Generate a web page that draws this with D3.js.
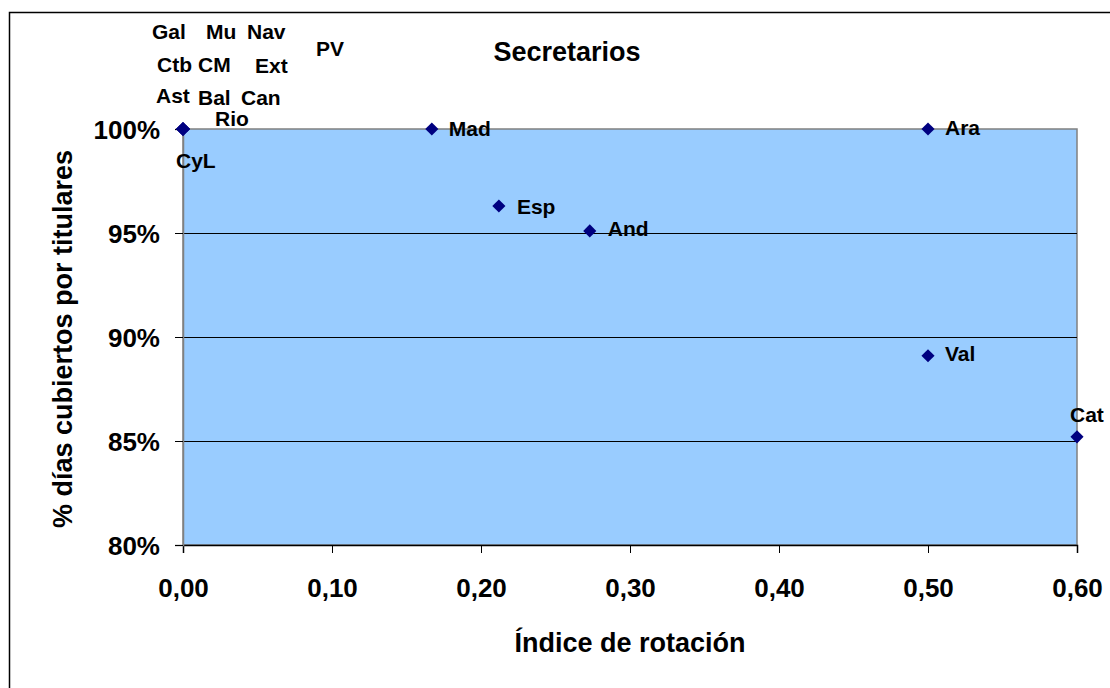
<!DOCTYPE html>
<html>
<head>
<meta charset="utf-8">
<script src="https://cdn.jsdelivr.net/npm/d3@7"></script>
<style>
  body { margin: 0; background: #fff; }
  svg text { font-family: Arial, "Liberation Sans", sans-serif; font-weight: bold; fill: #000; }
</style>
</head>
<body>
<div id="chart"></div>
<script>
(function () {
    // Data
    const regions = ["Ast", "Bal", "Can", "Ctb", "CyL", "CM", "Ext", "Gal", "Mu", "Nav", "PV", "Rio",
                     "Mad", "Esp", "And", "Ara", "Val", "Cat"];
    const rotation = [0, 0, 0, 0, 0, 0, 0, 0, 0, 0, 0, 0,
                      0.167, 0.212, 0.273, 0.50, 0.50, 0.60];
    const covered = [1, 1, 1, 1, 1, 1, 1, 1, 1, 1, 1, 1,
                     1, 0.963, 0.951, 1, 0.891, 0.852];
    const xTicks = [0, 0.1, 0.2, 0.3, 0.4, 0.5, 0.6];
    const yTicks = [0.80, 0.85, 0.90, 0.95, 1.00];

    // Label placement (px from the marker), labels were dragged by hand in the original
    const labelOffset = {
        Gal: [-31, -98], Mu: [23, -98], Nav: [64, -98], PV: [133, -81],
        Ctb: [-26, -65], CM: [15, -65], Ext: [72, -64],
        Ast: [-27, -34], Bal: [15, -32], Can: [58, -32],
        Rio: [32, -11], CyL: [-7, 31],
        Mad: [17, -1], Esp: [18, 0], And: [18, -2], Ara: [17, -2], Val: [17, -2], Cat: [-7, -22]
    };

    const width = 1110;
    const height = 688;
    const plot = { left: 183, right: 1077, top: 129, bottom: 545 };

    const svg = d3.select("#chart")
        .append("svg")
        .attr("width", width)
        .attr("height", height);

    // Chart frame (runs off the right/bottom edge like the original)
    svg.append("rect")
        .attr("x", 9.5).attr("y", 12.5)
        .attr("width", 1300).attr("height", 900)
        .attr("fill", "#fff")
        .attr("stroke", "#000")
        .attr("stroke-width", 1.5);

    const x = d3.scaleLinear().domain([0, 0.6]).range([plot.left, plot.right]);
    const y = d3.scaleLinear().domain([0.8, 1]).range([plot.bottom, plot.top]);

    const locale = d3.formatLocale({ decimal: ",", thousands: ".", grouping: [3], currency: ["", "€"] });

    // Plot area
    svg.append("rect")
        .attr("x", plot.left).attr("y", plot.top)
        .attr("width", plot.right - plot.left)
        .attr("height", plot.bottom - plot.top)
        .attr("fill", "#99ccff")
        .attr("stroke", "#808080")
        .attr("stroke-width", 1.5);

    // Gridlines
    svg.append("g")
        .selectAll("line")
        .data(yTicks.filter(d => d > 0.8 && d < 1))
        .enter()
        .append("line")
        .attr("x1", plot.left).attr("x2", plot.right)
        .attr("y1", d => Math.round(y(d)) + 0.5)
        .attr("y2", d => Math.round(y(d)) + 0.5)
        .attr("stroke", "#000")
        .attr("stroke-width", 1);

    // Axes
    const xAxis = svg.append("g")
        .attr("transform", `translate(0,${plot.bottom})`)
        .call(d3.axisBottom(x).tickValues(xTicks).tickSize(8).tickPadding(26)
            .tickFormat(locale.format(".2f")));
    xAxis.select(".domain").attr("stroke", "#000").attr("stroke-width", 1.5);
    xAxis.selectAll(".tick line").attr("stroke", "#000");
    xAxis.selectAll("text").style("font-size", "26px");

    const yAxis = svg.append("g")
        .attr("transform", `translate(${plot.left},0)`)
        .call(d3.axisLeft(y).tickValues(yTicks).tickSize(8).tickPadding(15)
            .tickFormat(d3.format(".0%")));
    yAxis.select(".domain").attr("stroke", "#808080").attr("stroke-width", 1.5);
    yAxis.selectAll(".tick line").attr("stroke", "#000");
    yAxis.selectAll("text").style("font-size", "26px").attr("dy", "0.36em");

    // Title and axis titles
    svg.append("text")
        .attr("x", 567).attr("y", 61)
        .attr("text-anchor", "middle")
        .style("font-size", "27px")
        .text("Secretarios");

    svg.append("text")
        .attr("x", 630).attr("y", 652)
        .attr("text-anchor", "middle")
        .style("font-size", "27px")
        .text("Índice de rotación");

    svg.append("text")
        .attr("transform", "translate(72,339) rotate(-90)")
        .attr("text-anchor", "middle")
        .style("font-size", "27px")
        .text("% días cubiertos por titulares");

    // Points
    const points = regions.map((name, i) => ({ name, x: rotation[i], y: covered[i] }));

    svg.append("g")
        .selectAll("path")
        .data(points)
        .enter()
        .append("path")
        .attr("transform", d => `translate(${x(d.x)},${y(d.y)})`)
        .attr("d", d3.symbol(d3.symbolDiamond2, 110))
        .attr("fill", "#000080");

    // Labels
    svg.append("g")
        .selectAll("text")
        .data(points)
        .enter()
        .append("text")
        .attr("x", d => x(d.x) + labelOffset[d.name][0])
        .attr("y", d => y(d.y) + labelOffset[d.name][1])
        .attr("dy", "0.36em")
        .style("font-size", "21px")
        .text(d => d.name);
})();
</script>
</body>
</html>
